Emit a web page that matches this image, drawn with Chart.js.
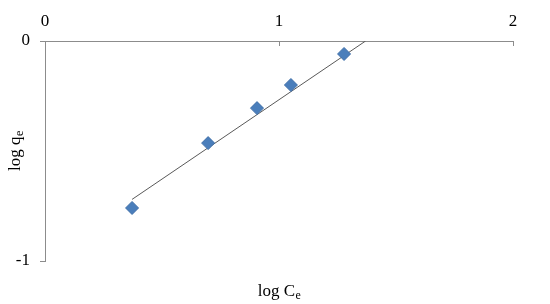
<!DOCTYPE html>
<html>
<head>
<meta charset="utf-8">
<script src="https://cdn.jsdelivr.net/npm/chart.js@4.4.1/dist/chart.umd.min.js"></script>
<style>
  html, body { margin: 0; padding: 0; background: #fff; }
  #wrap { width: 550px; height: 304px; position: relative; }
</style>
</head>
<body>
<div id="wrap"><canvas id="freundlich"></canvas></div>
<script>
// DATA //
const logCe = [0.372, 0.697, 0.906, 1.051, 1.278];
const logQe = [-0.759, -0.464, -0.305, -0.200, -0.059];
const trendX = [0.372, 1.37];
const trendY = [-0.72, 0];
const xTickValues = [0, 1, 2];
const yTickValues = [-1, 0];

const serif = '"Liberation Serif", "Times New Roman", serif';
const axisGrey = '#8c8c8c';

// draw "main" + subscript, centred on x
function subText(ctx, main, sub, x, y, size) {
    const subSize = Math.round(size * 0.72);
    ctx.font = size + 'px ' + serif;
    const w1 = ctx.measureText(main).width;
    ctx.font = subSize + 'px ' + serif;
    const w2 = ctx.measureText(sub).width;
    const start = x - (w1 + w2) / 2;
    ctx.textAlign = 'left';
    ctx.textBaseline = 'alphabetic';
    ctx.font = size + 'px ' + serif;
    ctx.fillText(main, start, y);
    ctx.font = subSize + 'px ' + serif;
    ctx.fillText(sub, start + w1 + 0.5, y + size * 0.2);
}

// tick marks and axis titles
const extras = {
    id: 'extras',
    afterDraw(chart) {
        const ctx = chart.ctx;
        const area = chart.chartArea;
        const xs = chart.scales.x;
        const ys = chart.scales.y;
        ctx.save();
        ctx.strokeStyle = axisGrey;
        ctx.lineWidth = 1;
        ctx.beginPath();
        xTickValues.forEach(v => {
            const px = Math.round(xs.getPixelForValue(v)) + 0.5;
            ctx.moveTo(px, area.top);
            ctx.lineTo(px, area.top + 5);
        });
        yTickValues.forEach(v => {
            const py = Math.round(ys.getPixelForValue(v)) + 0.5;
            ctx.moveTo(area.left - 5, py);
            ctx.lineTo(area.left, py);
        });
        ctx.stroke();

        ctx.fillStyle = '#000';
        subText(ctx, 'log C', 'e', (area.left + area.right) / 2, 296, 17);

        ctx.translate(20, (area.top + area.bottom) / 2);
        ctx.rotate(-Math.PI / 2);
        subText(ctx, 'log q', 'e', 0, 0, 17);
        ctx.restore();
    }
};

const canvas = document.getElementById('freundlich');

const pointData = logCe.map((x, i) => ({ x: x, y: logQe[i] }));
const trendData = trendX.map((x, i) => ({ x: x, y: trendY[i] }));

let chart = new Chart(canvas, {
    type: 'scatter',
    data: {
        datasets: [{
            label: 'log qe',
            data: pointData,
            pointStyle: 'rectRot',
            pointRadius: 6.5,
            backgroundColor: '#4a7ebb',
            borderColor: '#3f6fa8',
            borderWidth: 1
        }, {
            type: 'line',
            label: 'Linear',
            data: trendData,
            borderColor: '#595959',
            borderWidth: 1,
            pointRadius: 0,
            fill: false
        }]
    },
    options: {
        responsive: true,
        maintainAspectRatio: false,
        animation: false,
        layout: {
            padding: { left: 0, right: 37, top: 0, bottom: 43 }
        },
        plugins: {
            legend: { display: false },
            tooltip: { enabled: false }
        },
        scales: {
            x: {
                type: 'linear',
                position: 'top',
                min: 0,
                max: 2,
                afterFit: s => { s.height = 41; },
                ticks: {
                    stepSize: 1,
                    padding: 9,
                    color: '#000',
                    font: { family: serif, size: 17 }
                },
                grid: { display: false, drawTicks: false },
                border: { display: true, color: axisGrey, width: 1 }
            },
            y: {
                type: 'linear',
                min: -1,
                max: 0,
                afterFit: s => { s.width = 45; },
                ticks: {
                    stepSize: 1,
                    padding: 15,
                    color: '#000',
                    font: { family: serif, size: 17 }
                },
                grid: { display: false, drawTicks: false },
                border: { display: true, color: axisGrey, width: 1 }
            }
        }
    },
    plugins: [extras]
});
</script>
</body>
</html>
